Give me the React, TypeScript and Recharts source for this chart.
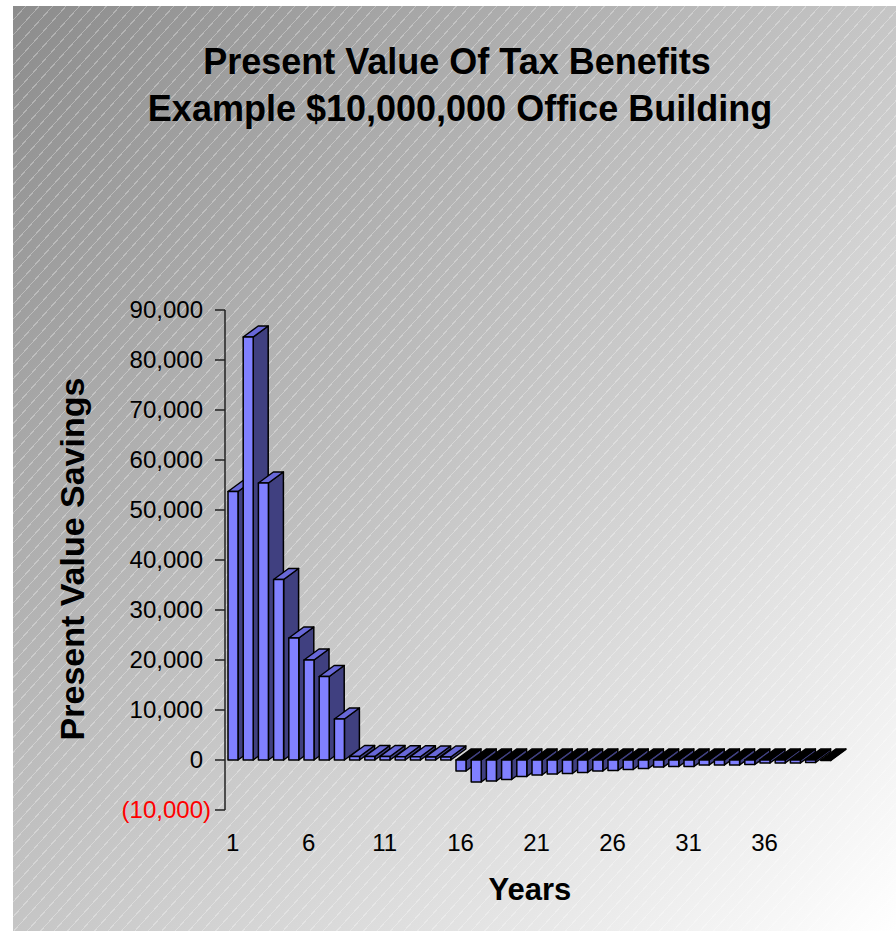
import React from "react";
import { BarChart, Bar, XAxis, YAxis } from "recharts";

// Year index along the horizontal axis
const years = [
  1, 2, 3, 4, 5, 6, 7, 8, 9, 10,
  11, 12, 13, 14, 15, 16, 17, 18, 19, 20,
  21, 22, 23, 24, 25, 26, 27, 28, 29, 30,
  31, 32, 33, 34, 35, 36, 37, 38, 39, 40,
];

// Present value of the tax savings in each year ($)
const savings = [
  53700, 84600, 55400, 36100, 24400, 20000, 16700, 8200, 700, 700,
  700, 650, 650, 600, 600, -2200, -4400, -4200, -3900, -3300,
  -3000, -2800, -2700, -2500, -2200, -2100, -1900, -1700, -1400, -1300,
  -1300, -1000, -1000, -1000, -900, -600, -600, -600, -500, -100,
];

const valueTicks = [-10000, 0, 10000, 20000, 30000, 40000, 50000, 60000, 70000, 80000, 90000];

const rows = years.map((year, i) => ({ year, savings: savings[i] }));

const FONT = "'Liberation Sans', Arial, Helvetica, sans-serif";
const DX = 15;
const DY = 11;

// Fake 3D column: side face, top face, then the front face
const Column3D = (props: any) => {
  const { x, y, width, height, payload } = props;
  const top = Math.min(y, y + height);
  const bottom = Math.max(y, y + height);
  const right = x + width;
  const negative = payload.savings < 0;
  const side = `${right},${top} ${right + DX},${top - DY} ${right + DX},${bottom - DY} ${right},${bottom}`;
  const cap = `${x},${top} ${x + DX},${top - DY} ${right + DX},${top - DY} ${right},${top}`;
  return (
    <g stroke="#000" strokeWidth={1.5} strokeLinejoin="round">
      <polygon points={side} fill="#404080" />
      <polygon points={cap} fill={negative ? "#000" : "#6868d8"} />
      <rect x={x} y={top} width={width} height={bottom - top} fill="#8080ff" />
    </g>
  );
};

const fmt = (v: number) =>
  v < 0 ? `(${Math.abs(v).toLocaleString("en-US")})` : v.toLocaleString("en-US");

// negatives hang the closing bracket past the digit column
const ValueTick = ({ x, y, payload }: any) => (
  <text
    x={payload.value < 0 ? x + 8 : x}
    y={y}
    dy={8}
    textAnchor="end"
    fontSize={24}
    fontFamily={FONT}
    fill={payload.value < 0 ? "#ff0000" : "#000"}
  >
    {fmt(payload.value)}
  </text>
);

const YearTick = ({ x, y, payload }: any) => (
  <text x={x} y={y} dy={41} textAnchor="middle" fontSize={24} fontFamily={FONT} fill="#000">
    {payload.value}
  </text>
);

export default function App() {
  return (
    <div
      style={{
        position: "fixed",
        left: 0,
        top: 0,
        width: 896,
        height: 931,
        background: "#fff",
        overflow: "hidden",
      }}
    >
      <div
        style={{
          position: "absolute",
          left: 13,
          top: 6,
          width: 883,
          height: 925,
          background:
            "repeating-linear-gradient(132deg, rgba(255,255,255,0) 0px, rgba(255,255,255,0) 9px, rgba(255,255,255,0.3) 9px, rgba(255,255,255,0.3) 10px), linear-gradient(to bottom right, #8c8c8c, #ffffff)",
        }}
      />
      <div style={{ position: "absolute", left: 0, top: 0 }}>
        <BarChart
          width={896}
          height={931}
          data={rows}
          margin={{ top: 310, right: 63, bottom: 21, left: 105 }}
          barSize={10}
        >
          <XAxis
            dataKey="year"
            interval={4}
            axisLine={false}
            tickLine={false}
            tickSize={0}
            tickMargin={0}
            height={100}
            tick={<YearTick />}
          />
          <YAxis
            width={120}
            domain={[-10000, 90000]}
            ticks={valueTicks}
            interval={0}
            tickSize={10}
            tickMargin={12}
            axisLine={{ stroke: "#222", strokeWidth: 1.5 }}
            tickLine={{ stroke: "#222", strokeWidth: 1.5 }}
            tick={<ValueTick />}
          />
          <Bar dataKey="savings" shape={<Column3D />} isAnimationActive={false} />
        </BarChart>
      </div>
      <svg
        width={896}
        height={931}
        style={{ position: "absolute", left: 0, top: 0, pointerEvents: "none" }}
        fontFamily={FONT}
        fontWeight="bold"
        fill="#000"
      >
        <text x={457} y={74} textAnchor="middle" fontSize={36}>
          Present Value Of Tax Benefits
        </text>
        <text x={460} y={121} textAnchor="middle" fontSize={36}>
          Example $10,000,000 Office Building
        </text>
        <text x={84} y={559} textAnchor="middle" fontSize={34} transform="rotate(-90, 84, 559)">
          Present Value Savings
        </text>
        <text x={530} y={900} textAnchor="middle" fontSize={31}>
          Years
        </text>
      </svg>
    </div>
  );
}
